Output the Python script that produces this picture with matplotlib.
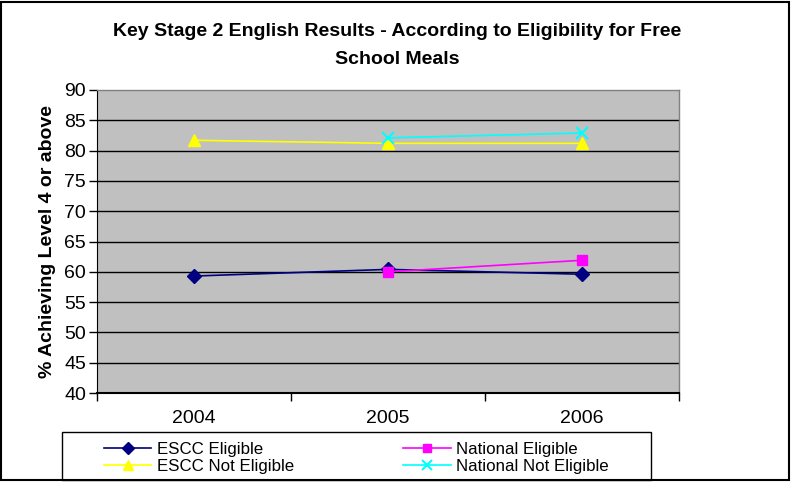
import numpy as np
import matplotlib
matplotlib.use("Agg")
import matplotlib.pyplot as plt
from matplotlib.patches import Rectangle

plt.rcParams['font.family'] = ['Liberation Sans', 'DejaVu Sans']

years = ['2004', '2005', '2006']
escc_eligible = [59.3, 60.4, 59.6]
national_eligible = [np.nan, 60.0, 61.9]
escc_not_eligible = [81.7, 81.2, 81.2]
national_not_eligible = [np.nan, 82.1, 82.9]

W, H = 791, 486
fig = plt.figure(figsize=(W / 100, H / 100), dpi=100)
fig.patch.set_facecolor('white')

# plot area in pixels: x 97..679, y 90..393
ax = fig.add_axes([97 / W, 1 - 393 / H, (679 - 97) / W, (393 - 90) / H])
ax.set_facecolor('#c0c0c0')

x = np.arange(len(years))
ax.plot(x, escc_eligible, color='#000080', marker='D', markersize=7, lw=1.2, label='ESCC Eligible')
ax.plot(x, national_eligible, color='#ff00ff', marker='s', markersize=7, lw=1.2, label='National Eligible')
ax.plot(x, escc_not_eligible, color='#ffff00', marker='^', markersize=8, lw=1.2, label='ESCC Not Eligible')
ax.plot(x, national_not_eligible, color='#00ffff', marker='x', markersize=8, mew=1.5, lw=1.2,
        label='National Not Eligible')

ax.set_xlim(-0.5, 2.5)
ax.set_ylim(40, 90)
ax.set_yticks(np.arange(40, 91, 5))
for y in np.arange(45, 90, 5):
    ax.axhline(y, color='black', lw=1, zorder=0.5)

ax.set_xticks(x)
ax.set_xticklabels(years, fontsize=14)
ax.tick_params(axis='x', which='major', length=0, pad=12)
ax.set_xticks([-0.5, 0.5, 1.5, 2.5], minor=True)
ax.tick_params(axis='x', which='minor', length=6, width=1, direction='out')
ax.tick_params(axis='y', labelsize=14, length=6, width=1, direction='out', pad=2)

for side in ['top', 'right']:
    ax.spines[side].set_color('#808080')
    ax.spines[side].set_linewidth(1)
ax.spines['left'].set_color('black')
ax.spines['bottom'].set_color('black')
ax.spines['bottom'].set_linewidth(1.5)

ax.set_ylabel('% Achieving Level 4 or above', fontsize=14, fontweight='bold', labelpad=6)

fig.text(397 / W, 1 - 31 / H, 'Key Stage 2 English Results - According to Eligibility for Free',
         ha='center', va='center', fontsize=14, fontweight='bold')
fig.text(397 / W, 1 - 59 / H, 'School Meals', ha='center', va='center', fontsize=14, fontweight='bold')

# legend box drawn separately, entries placed inside it
fig.patches.append(Rectangle((62 / W, 1 - 480 / H), (651 - 62) / W, (480 - 432) / H,
                             transform=fig.transFigure, fill=False, edgecolor='black', lw=1))
handles, labels = ax.get_legend_handles_labels()
order = [0, 2, 1, 3]
leg = fig.legend([handles[i] for i in order], [labels[i] for i in order],
                 loc='upper left', bbox_to_anchor=(104 / W, 1 - 442 / H), ncol=2,
                 fontsize=12.2, frameon=False, markerscale=0.85,
                 handlelength=2.8, handletextpad=0.35, columnspacing=6.4,
                 labelspacing=0.1, borderpad=0, borderaxespad=0)

fig.patches.append(Rectangle((1 / W, 6 / H), (W - 3) / W, (H - 8) / H, transform=fig.transFigure,
                             fill=False, edgecolor='black', lw=1.5))

fig.savefig('out.png', dpi=100)
